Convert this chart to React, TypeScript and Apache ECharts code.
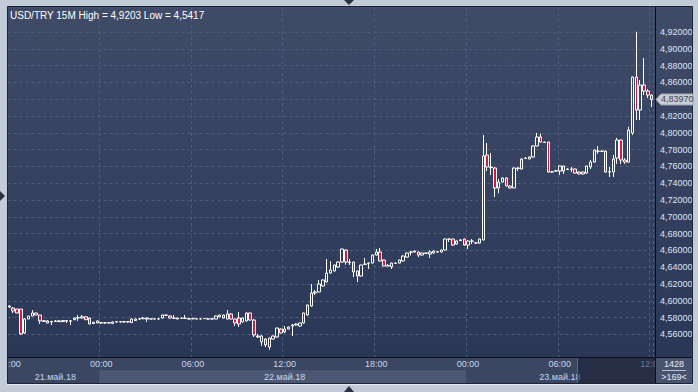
import React, { useEffect, useRef } from "react";
import * as echarts from "echarts";

// ---------- data ----------
const SYMBOL = "USD/TRY";
const TIMEFRAME = "15M";
const TOTAL_BARS = 1428;
const START_UTC = Date.UTC(2018, 4, 21, 18, 0);
const STEP_MINUTES = 15;
const MONTHS_RU = ["янв", "фев", "мар", "апр", "май", "июн", "июл", "авг", "сен", "окт", "ноя", "дек"];

const OPEN = [
  4.5926, 4.5914, 4.5902, 4.5902, 4.5617, 4.5783, 4.5819, 4.5855, 4.5831, 4.5755, 4.5760, 4.5748,
  4.5755, 4.5760, 4.5752, 4.5765, 4.5758, 4.5775, 4.5795, 4.5795, 4.5810, 4.5795, 4.5730, 4.5760,
  4.5736, 4.5738, 4.5736, 4.5728, 4.5748, 4.5750, 4.5748, 4.5752, 4.5740, 4.5765, 4.5783, 4.5786,
  4.5795, 4.5783, 4.5785, 4.5783, 4.5795, 4.5831, 4.5819, 4.5795, 4.5783, 4.5795, 4.5790, 4.5785,
  4.5790, 4.5783, 4.5785, 4.5788, 4.5783, 4.5783, 4.5783, 4.5810, 4.5831, 4.5783, 4.5843, 4.5783,
  4.5795, 4.5748, 4.5760, 4.5855, 4.5771, 4.5581, 4.5510, 4.5545, 4.5450, 4.5545, 4.5569, 4.5664,
  4.5630, 4.5664, 4.5700, 4.5712, 4.5700, 4.5736, 4.5831, 4.5938, 4.6093, 4.6105, 4.6176, 4.6224,
  4.6331, 4.6355, 4.6402, 4.6462, 4.6605, 4.6462, 4.6462, 4.6355, 4.6295, 4.6433, 4.6450, 4.6450,
  4.6545, 4.6581, 4.6486, 4.6414, 4.6405, 4.6445, 4.6450, 4.6474, 4.6521, 4.6578, 4.6581, 4.6581,
  4.6545, 4.6565, 4.6557, 4.6569, 4.6581, 4.6581, 4.6605, 4.6736, 4.6736, 4.6676, 4.6718, 4.6736,
  4.6664, 4.6712, 4.6690, 4.6688, 4.6724, 4.7736, 4.7593, 4.7581, 4.7343, 4.7414, 4.7462, 4.7367,
  4.7343, 4.7581, 4.7569, 4.7695, 4.7688, 4.7712, 4.7843, 4.7950, 4.7890, 4.7890, 4.7533, 4.7545,
  4.7545, 4.7605, 4.7569, 4.7565, 4.7569, 4.7533, 4.7510, 4.7521, 4.7593, 4.7652, 4.7783, 4.7783,
  4.7783, 4.7533, 4.7533, 4.7700, 4.7914, 4.7676, 4.7652, 4.7998, 4.8664, 4.8271, 4.8569, 4.8498,
  4.8450,
];
const CLOSE = [
  4.5938, 4.5879, 4.5855, 4.5605, 4.5783, 4.5819, 4.5855, 4.5831, 4.5760, 4.5762, 4.5736, 4.5755,
  4.5760, 4.5752, 4.5765, 4.5758, 4.5762, 4.5795, 4.5800, 4.5810, 4.5775, 4.5724, 4.5745, 4.5736,
  4.5740, 4.5736, 4.5740, 4.5748, 4.5752, 4.5748, 4.5752, 4.5748, 4.5783, 4.5783, 4.5786, 4.5795,
  4.5783, 4.5785, 4.5783, 4.5785, 4.5831, 4.5828, 4.5795, 4.5790, 4.5795, 4.5792, 4.5795, 4.5783,
  4.5785, 4.5785, 4.5783, 4.5790, 4.5785, 4.5785, 4.5819, 4.5831, 4.5795, 4.5843, 4.5783, 4.5736,
  4.5724, 4.5795, 4.5855, 4.5771, 4.5593, 4.5569, 4.5581, 4.5474, 4.5557, 4.5581, 4.5676, 4.5617,
  4.5664, 4.5688, 4.5712, 4.5724, 4.5736, 4.5855, 4.5950, 4.6093, 4.6105, 4.6200, 4.6248, 4.6331,
  4.6367, 4.6426, 4.6462, 4.6617, 4.6462, 4.6455, 4.6343, 4.6295, 4.6426, 4.6438, 4.6445, 4.6545,
  4.6581, 4.6474, 4.6414, 4.6420, 4.6450, 4.6450, 4.6486, 4.6533, 4.6569, 4.6581, 4.6593, 4.6545,
  4.6569, 4.6569, 4.6581, 4.6593, 4.6585, 4.6605, 4.6736, 4.6732, 4.6664, 4.6712, 4.6724, 4.6664,
  4.6712, 4.6710, 4.6688, 4.6736, 4.7724, 4.7593, 4.7585, 4.7343, 4.7414, 4.7462, 4.7367, 4.7343,
  4.7581, 4.7575, 4.7688, 4.7700, 4.7712, 4.7843, 4.7950, 4.7890, 4.7885, 4.7533, 4.7537, 4.7548,
  4.7605, 4.7545, 4.7565, 4.7569, 4.7521, 4.7510, 4.7533, 4.7605, 4.7652, 4.7795, 4.7780, 4.7779,
  4.7533, 4.7537, 4.7688, 4.7914, 4.7676, 4.7652, 4.8033, 4.8664, 4.8271, 4.8569, 4.8498, 4.8450,
  4.8397,
];
const HIGH = [
  4.5950, 4.5926, 4.5902, 4.5902, 4.5795, 4.5819, 4.5890, 4.5855, 4.5831, 4.5771, 4.5771, 4.5760,
  4.5771, 4.5771, 4.5771, 4.5771, 4.5771, 4.5800, 4.5831, 4.5831, 4.5815, 4.5800, 4.5748, 4.5765,
  4.5748, 4.5748, 4.5748, 4.5755, 4.5760, 4.5760, 4.5760, 4.5760, 4.5790, 4.5790, 4.5795, 4.5807,
  4.5800, 4.5790, 4.5790, 4.5790, 4.5835, 4.5835, 4.5825, 4.5831, 4.5800, 4.5800, 4.5831, 4.5795,
  4.5800, 4.5790, 4.5790, 4.5795, 4.5790, 4.5790, 4.5825, 4.5835, 4.5835, 4.5890, 4.5850, 4.5790,
  4.5867, 4.5800, 4.5860, 4.5860, 4.5783, 4.5605, 4.5593, 4.5555, 4.5560, 4.5585, 4.5680, 4.5670,
  4.5700, 4.5695, 4.5724, 4.5730, 4.5740, 4.5860, 4.5955, 4.6200, 4.6129, 4.6248, 4.6255, 4.6498,
  4.6470, 4.6430, 4.6470, 4.6620, 4.6610, 4.6498, 4.6465, 4.6360, 4.6430, 4.6510, 4.6455, 4.6550,
  4.6617, 4.6629, 4.6490, 4.6438, 4.6455, 4.6455, 4.6490, 4.6540, 4.6575, 4.6593, 4.6600, 4.6585,
  4.6575, 4.6575, 4.6600, 4.6600, 4.6593, 4.6610, 4.6740, 4.6740, 4.6740, 4.6720, 4.6736, 4.6740,
  4.6720, 4.6736, 4.6700, 4.6740, 4.7974, 4.7879, 4.7760, 4.7590, 4.7450, 4.7470, 4.7470, 4.7375,
  4.7590, 4.7590, 4.7695, 4.7705, 4.7720, 4.7850, 4.7998, 4.7990, 4.7895, 4.7895, 4.7545, 4.7560,
  4.7610, 4.7610, 4.7575, 4.7593, 4.7575, 4.7540, 4.7540, 4.7610, 4.7676, 4.7800, 4.7843, 4.7790,
  4.7790, 4.7593, 4.7736, 4.7940, 4.7920, 4.7700, 4.8073, 4.8670, 4.9203, 4.8629, 4.8890, 4.8520,
  4.8455,
];
const LOW = [
  4.5914, 4.5855, 4.5855, 4.5593, 4.5605, 4.5783, 4.5819, 4.5831, 4.5724, 4.5748, 4.5736, 4.5712,
  4.5748, 4.5748, 4.5748, 4.5736, 4.5712, 4.5771, 4.5760, 4.5790, 4.5771, 4.5720, 4.5724, 4.5736,
  4.5724, 4.5728, 4.5730, 4.5724, 4.5740, 4.5740, 4.5740, 4.5736, 4.5736, 4.5760, 4.5775, 4.5783,
  4.5748, 4.5780, 4.5780, 4.5780, 4.5790, 4.5819, 4.5790, 4.5783, 4.5780, 4.5783, 4.5783, 4.5780,
  4.5780, 4.5780, 4.5780, 4.5783, 4.5780, 4.5780, 4.5783, 4.5805, 4.5790, 4.5780, 4.5780, 4.5700,
  4.5688, 4.5740, 4.5755, 4.5765, 4.5569, 4.5557, 4.5462, 4.5450, 4.5417, 4.5540, 4.5565, 4.5612,
  4.5617, 4.5660, 4.5581, 4.5705, 4.5695, 4.5730, 4.5825, 4.5930, 4.6069, 4.6100, 4.6170, 4.6220,
  4.6325, 4.6350, 4.6395, 4.6455, 4.6430, 4.6426, 4.6283, 4.6224, 4.6290, 4.6430, 4.6379, 4.6445,
  4.6540, 4.6470, 4.6410, 4.6410, 4.6379, 4.6440, 4.6445, 4.6470, 4.6515, 4.6540, 4.6575, 4.6520,
  4.6540, 4.6560, 4.6510, 4.6565, 4.6575, 4.6575, 4.6600, 4.6700, 4.6655, 4.6670, 4.6710, 4.6655,
  4.6617, 4.6676, 4.6680, 4.6680, 4.6720, 4.7545, 4.7498, 4.7236, 4.7280, 4.7410, 4.7360, 4.7340,
  4.7340, 4.7545, 4.7565, 4.7690, 4.7685, 4.7705, 4.7840, 4.7885, 4.7880, 4.7525, 4.7525, 4.7540,
  4.7498, 4.7510, 4.7560, 4.7533, 4.7515, 4.7505, 4.7505, 4.7515, 4.7569, 4.7645, 4.7750, 4.7775,
  4.7525, 4.7474, 4.7474, 4.7630, 4.7630, 4.7630, 4.7645, 4.7974, 4.8152, 4.8152, 4.8450, 4.8414,
  4.8307,
];

const Y_TICKS = [
  4.56, 4.58, 4.6, 4.62, 4.64, 4.66, 4.68, 4.7, 4.72, 4.74,
  4.76, 4.78, 4.8, 4.82, 4.84, 4.86, 4.88, 4.9, 4.92,
];
const Y_MIN = 4.5331;
const Y_MAX = 4.9498;

// ---------- derived ----------
const N = OPEN.length;
const pad = (n: number) => (n < 10 ? "0" + n : "" + n);
const DATES = OPEN.map((_, i) => new Date(START_UTC + i * STEP_MINUTES * 60000));
const CATEGORIES = DATES.map(
  (d) =>
    `${pad(d.getUTCDate())}.${pad(d.getUTCMonth() + 1)}.${d.getUTCFullYear()} ${pad(d.getUTCHours())}:${pad(d.getUTCMinutes())}`
);
const dayKey = (i: number) => CATEGORIES[i].slice(0, 10);
const DAY_RANGES: [number, number][] = [];
for (let i = 0; i < N; i++) {
  if (i === 0 || dayKey(i) !== dayKey(i - 1)) DAY_RANGES.push([i, i]);
  else DAY_RANGES[DAY_RANGES.length - 1][1] = i;
}
const DAY_MIDS = DAY_RANGES.map(([s, e]) => Math.ceil((s + e) / 2));
const isTimeLabel = (i: number) => {
  const d = DATES[i];
  return d.getUTCMinutes() === 0 && d.getUTCHours() % 6 === 0;
};
const dateText = (i: number) => {
  const d = DATES[i];
  return `${pad(d.getUTCDate())}.${MONTHS_RU[d.getUTCMonth()]}.${String(d.getUTCFullYear()).slice(2)}`;
};
const comma = (v: number, digits: number) => v.toFixed(digits).replace(".", ",");
const HI = Math.max(...HIGH);
const LO = Math.min(...LOW);
const TITLE = `${SYMBOL} ${TIMEFRAME} High = ${comma(HI, 4)} Low = ${comma(LO, 4)}`;

// ---------- style ----------
const FONT = "Liberation Sans, Arial, sans-serif";
const BG_OUTER = "#c2cbd8";
const PLOT_TOP = "#3f4b67";
const PLOT_BOTTOM = "#2b3757";
const GRID_LINE = "#4f5c7a";
const AXIS_ROW = "#3a4662";
const DAY_BAND = "#4b5773";
const RIGHT_BOX = "#47536d";
const LABEL = "#c6d7ee";
const Y_LABEL = "#dbe6f4";
const RED = "#d8173f";
const DARK_LINE = "#0b0e16";

export default function App() {
  const ref = useRef<HTMLDivElement>(null);

  useEffect(() => {
    const el = ref.current;
    if (!el) return;
    const chart = echarts.init(el, null, { renderer: "svg" });

    const gridLineStyle = { color: GRID_LINE, width: 1, type: [3, 3] as any };

    chart.setOption({
      animation: false,
      backgroundColor: BG_OUTER,
      textStyle: { fontFamily: FONT },
      grid: {
        left: 7.5,
        top: 7,
        width: 646,
        height: 350,
        containLabel: false,
        outerBoundsMode: "none",
      },
      xAxis: [
        {
          type: "category",
          data: CATEGORIES,
          boundaryGap: true,
          axisLine: { show: false },
          axisTick: { show: false },
          axisLabel: {
            interval: (i: number) => isTimeLabel(i),
            formatter: (v: string) => v.slice(-5),
            color: LABEL,
            fontSize: 9,
            fontFamily: FONT,
            margin: 2,
          },
          splitLine: {
            show: true,
            interval: (i: number) => i > 0 && isTimeLabel(i),
            lineStyle: gridLineStyle,
          },
        },
        {
          type: "category",
          data: CATEGORIES,
          boundaryGap: true,
          position: "bottom",
          offset: 13,
          axisLine: { show: false },
          axisTick: { show: false },
          splitLine: { show: false },
          axisLabel: {
            interval: (i: number) => DAY_MIDS.indexOf(i) >= 0,
            formatter: (_v: string, i: number) => dateText(i),
            color: LABEL,
            fontSize: 9,
            fontFamily: FONT,
            margin: 2,
          },
        },
      ],
      yAxis: {
        type: "value",
        position: "right",
        min: Y_MIN,
        max: Y_MAX,
        scale: true,
        axisLine: { show: false },
        axisTick: { show: false, customValues: Y_TICKS },
        axisLabel: {
          customValues: Y_TICKS,
          formatter: (v: number) => comma(v, 5),
          color: Y_LABEL,
          fontSize: 9,
          fontFamily: FONT,
          margin: 6.5,
        },
        splitLine: { show: true, lineStyle: gridLineStyle },
      },
      series: [
        {
          type: "candlestick",
          xAxisIndex: 0,
          yAxisIndex: 0,
          data: OPEN.map((o, i) => [o, CLOSE[i], LOW[i], HIGH[i]]),
          barWidth: 3,
          itemStyle: {
            color: "transparent",
            color0: RED,
            borderColor: "#ffffff",
            borderColor0: "#ffffff",
            borderColorDoji: "#ffffff",
            borderWidth: 1,
          },
          emphasis: { disabled: true },
          silent: true,
        },
      ],
    });

    const px = (i: number) => chart.convertToPixel({ xAxisIndex: 0 }, i) as number;
    const band = px(1) - px(0);
    const dayEdges = DAY_RANGES.map(([s]) => px(s) - band / 2);
    const yLast = chart.convertToPixel({ yAxisIndex: 0 }, CLOSE[N - 1]) as number;

    const gradient = new echarts.graphic.LinearGradient(0, 0, 0, 1, [
      { offset: 0, color: PLOT_TOP },
      { offset: 1, color: PLOT_BOTTOM },
    ]);

    const lightBand =
      DAY_RANGES.length > 2
        ? { x: dayEdges[1], w: dayEdges[2] - dayEdges[1] }
        : { x: 0, w: 0 };

    chart.setOption({
      graphic: [
        // backgrounds
        { type: "rect", z: -10, silent: true, shape: { x: 8, y: 7, width: 684, height: 350 }, style: { fill: gradient } },
        { type: "rect", z: -10, silent: true, shape: { x: 8, y: 357, width: 647, height: 26 }, style: { fill: AXIS_ROW } },
        { type: "rect", z: -9, silent: true, shape: { x: lightBand.x, y: 370, width: lightBand.w, height: 13 }, style: { fill: DAY_BAND } },
        // overlays
        { type: "rect", z: 100, silent: true, shape: { x: 577, y: 358, width: 78, height: 25 }, style: { fill: "rgba(16,22,40,0.5)" } },
        { type: "line", z: 101, silent: true, shape: { x1: 577.5, y1: 358, x2: 577.5, y2: 383 }, style: { stroke: "#5d6984", lineWidth: 1 } },
        { type: "rect", z: 100, silent: true, shape: { x: 655, y: 357, width: 37, height: 26 }, style: { fill: RIGHT_BOX } },
        { type: "rect", z: 100, silent: true, shape: { x: 0, y: 0, width: 7.5, height: 392 }, style: { fill: BG_OUTER } },
        { type: "rect", z: 100, silent: true, shape: { x: 692.5, y: 0, width: 6, height: 392 }, style: { fill: BG_OUTER } },
        { type: "line", z: 102, silent: true, shape: { x1: 8, y1: 357.5, x2: 692, y2: 357.5 }, style: { stroke: DARK_LINE, lineWidth: 1 } },
        { type: "line", z: 102, silent: true, shape: { x1: 655.5, y1: 7, x2: 655.5, y2: 383 }, style: { stroke: DARK_LINE, lineWidth: 1 } },
        { type: "rect", z: 103, silent: true, shape: { x: 7.5, y: 6.5, width: 685, height: 377 }, style: { fill: "none", stroke: "#1c2335", lineWidth: 1 } },
        { type: "line", z: 103, silent: true, shape: { x1: 7, y1: 384.5, x2: 693, y2: 384.5 }, style: { stroke: "#e6ebf2", lineWidth: 1 } },
        // title
        {
          type: "text", z: 110, silent: true, x: 10, y: 15,
          style: { text: TITLE, fill: "#ffffff", font: `10px ${FONT}`, textVerticalAlign: "middle", verticalAlign: "middle" },
        },
        // last price label
        {
          type: "polygon", z: 110, silent: true,
          shape: { points: [[656, yLast], [661, yLast - 5.5], [693, yLast - 5.5], [693, yLast + 5.5], [661, yLast + 5.5]] },
          style: { fill: "#c9cdd6", stroke: "#9ea4ae", lineWidth: 1 },
        },
        {
          type: "text", z: 111, silent: true, x: 661, y: yLast,
          style: { text: comma(CLOSE[N - 1], 5), fill: "#3c4658", font: `9px ${FONT}`, verticalAlign: "middle", textVerticalAlign: "middle" },
        },
        // bottom right counters
        {
          type: "text", z: 110, silent: true, x: 674, y: 364,
          style: { text: String(TOTAL_BARS), fill: "#e6edf6", font: `9px ${FONT}`, align: "center", textAlign: "center", verticalAlign: "middle", textVerticalAlign: "middle" },
        },
        { type: "line", z: 110, silent: true, shape: { x1: 662, y1: 370.5, x2: 686, y2: 370.5 }, style: { stroke: "#b9c3d2", lineWidth: 1 } },
        {
          type: "text", z: 110, silent: true, x: 674, y: 377,
          style: { text: `>${N}<`, fill: "#e6edf6", font: `9px ${FONT}`, align: "center", textAlign: "center", verticalAlign: "middle", textVerticalAlign: "middle" },
        },
        // UI triangles
        { type: "polygon", z: 110, silent: true, shape: { points: [[344, 0], [354, 0], [349, 5]] }, style: { fill: "#2a3142" } },
        { type: "polygon", z: 110, silent: true, shape: { points: [[344, 392], [354, 392], [349, 386]] }, style: { fill: "#2a3142" } },
        { type: "polygon", z: 110, silent: true, shape: { points: [[0, 191], [0, 201], [5, 196]] }, style: { fill: "#2a3142" } },
      ],
    });

    return () => chart.dispose();
  }, []);

  return (
    <div
      ref={ref}
      style={{ position: "fixed", left: 0, top: 0, width: 698, height: 392 }}
    />
  );
}
